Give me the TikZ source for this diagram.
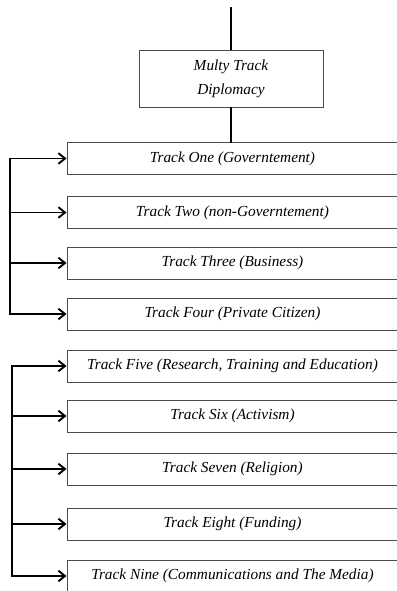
\documentclass[tikz,border=0pt]{standalone}
\usepackage{fontspec}
\setmainfont{Liberation Serif}
\usetikzlibrary{arrows.meta}

\begin{document}
\begin{tikzpicture}[x=0.75pt, y=-0.75pt,
    track/.style={draw=black!70, line width=0.7pt, minimum width=248.25pt, minimum height=24pt,
      inner sep=0pt, font=\itshape\fontsize{11.5}{13}\selectfont},
    link/.style={line width=1.4pt, line cap=rect},
    arr/.style={line width=1.4pt, -{Straight Barb[length=5pt, width=8pt]}}]
    \useasboundingbox (0,0) rectangle (396,591);
    \coordinate (src) at (231,8);
    \node[track, minimum width=138pt, minimum height=42.75pt, align=center] (mtd) at (231,78.5) {Multy Track\\[5pt]Diplomacy};
    \node[track] (t1) at (232.5,158.5) {Track One (Governtement)};
    \node[track] (t2) at (232.5,212.5) {Track Two (non-Governtement)};
    \node[track] (t3) at (232.5,263) {Track Three (Business)};
    \node[track] (t4) at (232.5,314) {Track Four (Private Citizen)};
    \node[track] (t5) at (232.5,366) {Track Five (Research, Training and Education)};
    \node[track] (t6) at (232.5,416) {Track Six (Activism)};
    \node[track] (t7) at (232.5,469) {Track Seven (Religion)};
    \node[track] (t8) at (232.5,524) {Track Eight (Funding)};
    \node[track] (t9) at (232.5,576) {Track Nine (Communications and The Media)};
    \draw[link] (src) -- (mtd.north);
    \draw[link] (mtd.south) -- (mtd.south |- t1.north);
    % first group of tracks
    \coordinate (g1) at (10,0);
    \draw[link] (g1 |- t1.west) -- (g1 |- t4.west);
    \foreach \t in {t1,t2,t3,t4}
      \draw[arr] (g1 |- \t.west) -- (\t.west);
    % second group of tracks
    \coordinate (g2) at (12,0);
    \draw[link] (g2 |- t5.west) -- (g2 |- t9.west);
    \foreach \t in {t5,t6,t7,t8,t9}
      \draw[arr] (g2 |- \t.west) -- (\t.west);
\end{tikzpicture}
\end{document}
